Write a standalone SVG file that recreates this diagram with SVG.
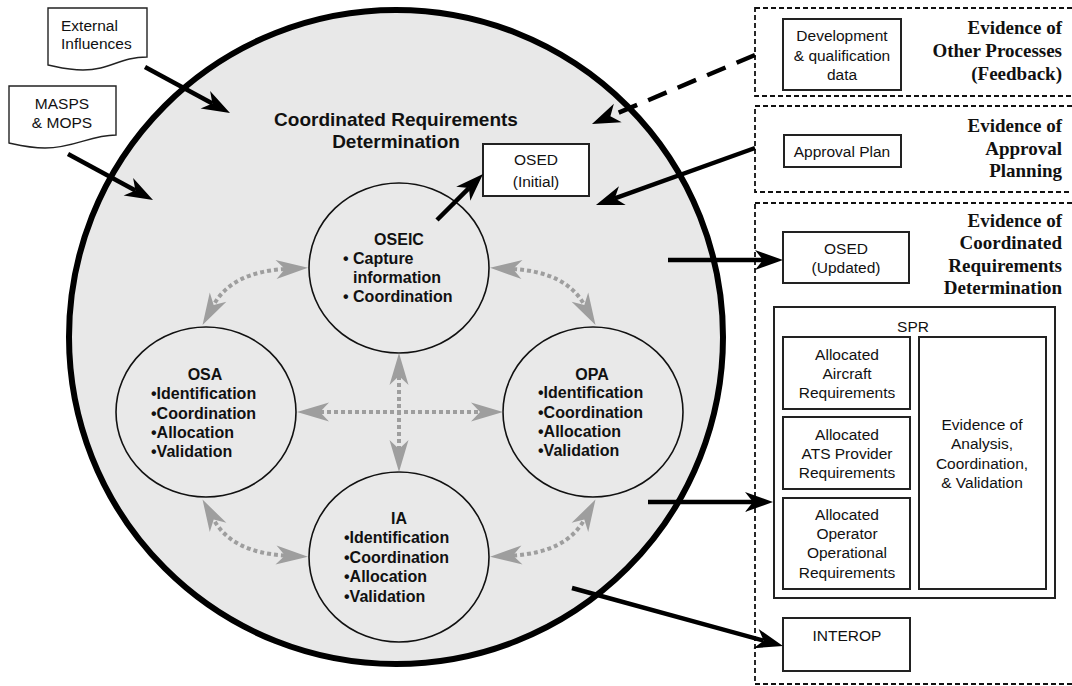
<svg xmlns="http://www.w3.org/2000/svg" width="1072" height="686" viewBox="0 0 1072 686">
  <style>
    .sans { font-family: "Liberation Sans", Arial, sans-serif; fill: #111; }
    .lbl { font-size: 15.5px; text-anchor: middle; }
    .bold { font-weight: bold; font-size: 16px; }
    .head { font-family: "Liberation Serif", "Times New Roman", serif; font-weight: bold; font-size: 19px; text-anchor: end; fill: #111; }
    .box { fill: #fff; stroke: #222; stroke-width: 2; }
    .doc { fill: #fff; stroke: #222; stroke-width: 1.4; }
    .group { fill: none; stroke: #111; stroke-width: 1.8; stroke-dasharray: 5 3; }
    .proc { fill: #e9e9e9; stroke: #111; stroke-width: 1.6; }
    .flow { fill: none; stroke: #000; stroke-width: 4.5; marker-end: url(#ah); }
    .link { fill: none; stroke: #9e9e9e; stroke-width: 4; stroke-dasharray: 4 3; marker-start: url(#gh); marker-end: url(#gh); }
  </style>
  <defs>
    <!-- black barbed head, reference point at the notch -->
    <marker id="ah" viewBox="-10 -11 32 22" refX="0" refY="0" markerWidth="32" markerHeight="22" orient="auto" markerUnits="userSpaceOnUse">
      <path d="M20,0 L-8,-10 L0,0 L-8,10 Z" fill="#000"/>
    </marker>
    <!-- grey narrow head, reference point at the notch -->
    <marker id="gh" viewBox="-11 -11 36 22" refX="0" refY="0" markerWidth="36" markerHeight="22" orient="auto-start-reverse" markerUnits="userSpaceOnUse">
      <path d="M23,0 L-9,-9.5 L0,0 L-9,9.5 Z" fill="#9e9e9e"/>
    </marker>
  </defs>

  <!-- evidence groups -->
  <g id="group-other-processes">
    <rect class="group" x="755" y="8" width="318" height="88"/>
    <text class="head" x="1062" y="34">Evidence of</text>
    <text class="head" x="1062" y="57">Other Processes</text>
    <text class="head" x="1062" y="80">(Feedback)</text>
  </g>
  <g id="group-approval-planning">
    <rect class="group" x="755" y="106" width="318" height="86"/>
    <text class="head" x="1062" y="132">Evidence of</text>
    <text class="head" x="1062" y="155">Approval</text>
    <text class="head" x="1062" y="177">Planning</text>
  </g>
  <g id="group-coordinated">
    <rect class="group" x="755" y="203" width="318" height="481"/>
    <text class="head" x="1062" y="227">Evidence of</text>
    <text class="head" x="1062" y="249">Coordinated</text>
    <text class="head" x="1062" y="272">Requirements</text>
    <text class="head" x="1062" y="294">Determination</text>
  </g>

  <!-- main process circle -->
  <g id="crd">
    <ellipse cx="396" cy="337" rx="327" ry="327" fill="#e8e8e8" stroke="#000" stroke-width="6"/>
    <text class="sans" font-weight="bold" font-size="19" text-anchor="middle" x="396" y="126">Coordinated Requirements</text>
    <text class="sans" font-weight="bold" font-size="19" text-anchor="middle" x="396" y="148">Determination</text>
  </g>

  <!-- inputs -->
  <g id="external-influences">
    <path class="doc" d="M48,8 H147 V57 C120,57 110,70 83,70 C68,70 58,67 48,65 Z"/>
    <text class="sans" font-size="15.5" x="61" y="31">External</text>
    <text class="sans" font-size="15.5" x="61" y="49">Influences</text>
  </g>
  <g id="masps-mops">
    <path class="doc" d="M9,86 H116 V135 C90,135 75,148 45,148 C30,148 18,145 9,143 Z"/>
    <text class="sans lbl" x="62" y="109">MASPS</text>
    <text class="sans lbl" x="62" y="128">&amp; MOPS</text>
  </g>

  <!-- sub-processes -->
  <g id="oseic">
    <ellipse class="proc" cx="399" cy="268" rx="90" ry="85"/>
    <text class="sans bold" text-anchor="middle" x="399" y="245">OSEIC</text>
    <text class="sans bold" x="343" y="264">• Capture</text>
    <text class="sans bold" x="353" y="283">information</text>
    <text class="sans bold" x="343" y="302">• Coordination</text>
  </g>
  <g id="osa">
    <ellipse class="proc" cx="206" cy="412" rx="90" ry="85"/>
    <text class="sans bold" text-anchor="middle" x="205" y="380">OSA</text>
    <text class="sans bold" x="151" y="399">•Identification</text>
    <text class="sans bold" x="151" y="419">•Coordination</text>
    <text class="sans bold" x="151" y="438">•Allocation</text>
    <text class="sans bold" x="151" y="457">•Validation</text>
  </g>
  <g id="opa">
    <ellipse class="proc" cx="593" cy="412" rx="90" ry="85"/>
    <text class="sans bold" text-anchor="middle" x="592" y="380">OPA</text>
    <text class="sans bold" x="538" y="398">•Identification</text>
    <text class="sans bold" x="538" y="418">•Coordination</text>
    <text class="sans bold" x="538" y="437">•Allocation</text>
    <text class="sans bold" x="538" y="456">•Validation</text>
  </g>
  <g id="ia">
    <ellipse class="proc" cx="399" cy="557" rx="90" ry="85"/>
    <text class="sans bold" text-anchor="middle" x="399" y="524">IA</text>
    <text class="sans bold" x="344" y="543">•Identification</text>
    <text class="sans bold" x="344" y="563">•Coordination</text>
    <text class="sans bold" x="344" y="582">•Allocation</text>
    <text class="sans bold" x="344" y="602">•Validation</text>
  </g>

  <!-- outputs -->
  <g id="osed-initial">
    <rect class="box" x="483" y="144" width="106" height="52"/>
    <text class="sans lbl" x="536" y="165">OSED</text>
    <text class="sans lbl" x="536" y="187">(Initial)</text>
  </g>
  <g id="dev-data">
    <rect class="box" x="783" y="19" width="118" height="71"/>
    <text class="sans lbl" x="842" y="41">Development</text>
    <text class="sans lbl" x="842" y="61">&amp; qualification</text>
    <text class="sans lbl" x="842" y="80">data</text>
  </g>
  <g id="approval-plan">
    <rect class="box" x="784" y="135" width="117" height="32"/>
    <text class="sans lbl" x="842" y="157">Approval Plan</text>
  </g>
  <g id="osed-updated">
    <rect class="box" x="783" y="232" width="126" height="51"/>
    <text class="sans lbl" x="846" y="254">OSED</text>
    <text class="sans lbl" x="846" y="273">(Updated)</text>
  </g>
  <g id="spr">
    <rect class="box" x="774" y="307" width="281" height="291"/>
    <text class="sans lbl" x="913" y="332">SPR</text>
  </g>
  <g id="aircraft-req">
    <rect class="box" x="783" y="337" width="127" height="72"/>
    <text class="sans lbl" x="847" y="360">Allocated</text>
    <text class="sans lbl" x="847" y="379">Aircraft</text>
    <text class="sans lbl" x="847" y="398">Requirements</text>
  </g>
  <g id="ats-req">
    <rect class="box" x="783" y="417" width="127" height="72"/>
    <text class="sans lbl" x="847" y="440">Allocated</text>
    <text class="sans lbl" x="847" y="459">ATS Provider</text>
    <text class="sans lbl" x="847" y="478">Requirements</text>
  </g>
  <g id="operator-req">
    <rect class="box" x="783" y="498" width="127" height="91"/>
    <text class="sans lbl" x="847" y="520">Allocated</text>
    <text class="sans lbl" x="847" y="539">Operator</text>
    <text class="sans lbl" x="847" y="558">Operational</text>
    <text class="sans lbl" x="847" y="578">Requirements</text>
  </g>
  <g id="analysis-evidence">
    <rect class="box" x="919" y="337" width="127" height="252"/>
    <text class="sans lbl" x="982" y="430">Evidence of</text>
    <text class="sans lbl" x="982" y="449">Analysis,</text>
    <text class="sans lbl" x="982" y="469">Coordination,</text>
    <text class="sans lbl" x="982" y="488">&amp; Validation</text>
  </g>
  <g id="interop">
    <rect class="box" x="783" y="618" width="127" height="53"/>
    <text class="sans lbl" x="847" y="641">INTEROP</text>
  </g>

  <!-- connectors -->
  <g id="connectors">
    <path class="flow" d="M145,67 L212.4,103.5"/>
    <path class="flow" d="M68,154 L135.4,190.5"/>
    <path class="flow" d="M437,220 L468.9,188.1"/>
    <path class="flow" d="M755,55 L610.4,116.2" stroke-dasharray="20 12"/>
    <path class="flow" d="M755,148 L614.8,198.3"/>
    <path class="flow" d="M668,260 L763,260"/>
    <path class="flow" d="M648,502 L753,502"/>
    <path class="flow" d="M572,588 L763.7,640.7"/>

    <path class="link" d="M285,269 Q232,272 213.7,304.9"/>
    <path class="link" d="M513,269 Q566,272 584.3,304.9"/>
    <path class="link" d="M285,555.5 Q232,552.5 213.7,519.6"/>
    <path class="link" d="M513,555.5 Q566,552.5 584.3,519.6"/>
    <path class="link" d="M320,412 H480"/>
    <path class="link" d="M399,376 V449"/>
  </g>
</svg>
